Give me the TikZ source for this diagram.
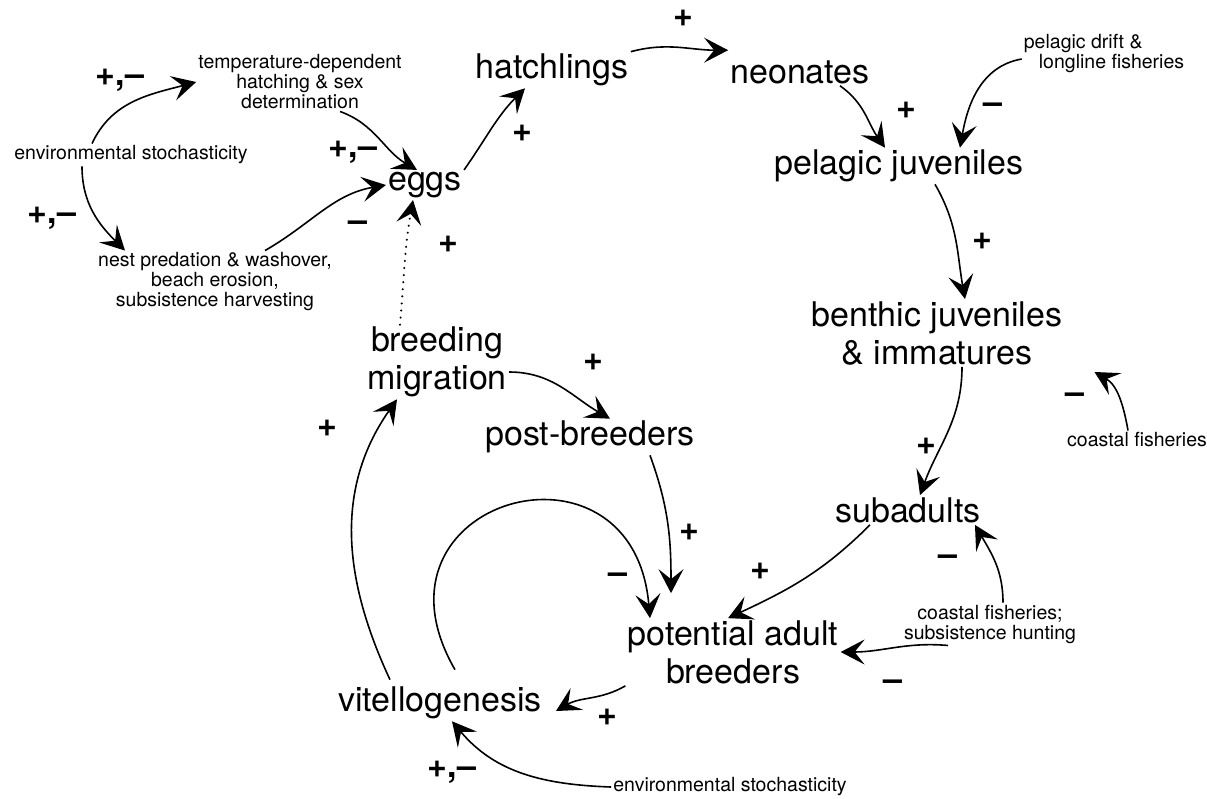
\documentclass[tikz,border=0pt]{standalone}
\usepackage{fontspec}
\setmainfont{TeX Gyre Heros}
\usetikzlibrary{arrows.meta}
\begin{document}
\begin{tikzpicture}[x=1pt,y=1pt,
  big/.style={font=\fontsize{34}{38}\selectfont, inner sep=2pt, align=center},
  small/.style={font=\fontsize{19.5}{20}\selectfont, inner sep=2pt, align=center},
  sign/.style={font=\fontsize{34}{34}\bfseries\selectfont, inner sep=0pt},
  arr/.style={line width=1.6pt, -{Stealth[length=24pt,width=25pt,inset=10pt]}},
  dotarr/.style={arr, line width=2.2pt, line cap=round, dash pattern=on 0.1pt off 7pt}]
\useasboundingbox (0,0) rectangle (1207,-798);
% main nodes
\node[big] (hatch) at (552,-70) {hatchlings};
\node[big] (neon) at (800,-72) {neonates};
\node[big] (pjuv) at (899,-166) {pelagic juveniles};
\node[big] (benth) at (937,-333) {benthic juveniles\\\& immatures};
\node[big] (subad) at (908,-510) {subadults};
\node[big] (pab) at (733,-652) {potential adult\\breeders};
\node[big] (vitel) at (440,-703) {vitellogenesis};
\node[big] (postb) at (590,-437) {post-breeders};
\node[big] (bmig) at (437,-362) {breeding\\migration};
\node[big] (eggs) at (425,-185) {eggs};
% small nodes
\node[small] (temp) at (300,-82) {temperature-dependent\\hatching \& sex\\determination};
\node[small] (envs) at (131,-155) {environmental stochasticity};
\node[small] (nest) at (215,-282) {nest predation \& washover,\\beach erosion,\\subsistence harvesting};
\node[small, align=left] (pdrift) at (1104,-53) {pelagic drift \&\\\hspace{15pt}longline fisheries};
\node[small] (cfish) at (1137,-440) {coastal fisheries};
\node[small] (cfsh) at (990,-624) {coastal fisheries;\\subsistence hunting};
\node[small] (envs2) at (730,-787) {environmental stochasticity};
% connectors
\draw[arr] ([xshift=-39]envs.north) to[out=65,in=195] (temp.west);
\draw[arr] ([xshift=-49]envs.south) to[out=-90,in=135] ([xshift=-90]nest.north);
\draw[arr] ([xshift=40]temp.south) to[out=-20,in=150] ([xshift=-8]eggs.north);
\draw[arr] ([xshift=50]nest.north) to[out=30,in=190] (eggs.west);
\draw[dotarr] ([xshift=-37]bmig.north) to[out=85,in=-100] ([xshift=-12]eggs.south);
\draw[arr] (eggs.north east) to[out=55,in=225] ([xshift=-27]hatch.south);
\draw[arr] (hatch.north east) to[out=15,in=180] ([yshift=8]neon.north west);
\draw[arr] ([xshift=40]neon.south) to[out=-35,in=125] ([xshift=-14]pjuv.north);
\draw[arr] ([yshift=-6]pdrift.west) to[out=190,in=80] ([xshift=61]pjuv.north);
\draw[arr] ([xshift=36]pjuv.south) to[out=-60,in=100] ([xshift=28]benth.north);
\draw[arr] ([xshift=-9]cfish.north) to[out=100,in=-30] ([xshift=30,yshift=-5]benth.south east);
\draw[arr] ([xshift=25]benth.south) to[out=-90,in=70] ([xshift=12]subad.north);
\draw[arr] ([xshift=-38]subad.south) to[out=-135,in=25] ([xshift=-5]pab.north);
\draw[arr] ([xshift=13]cfsh.north) to[out=90,in=-60] ([xshift=-8]subad.south east);
\draw[arr] ([xshift=-42]cfsh.south) to[out=175,in=0] (pab.east);
\draw[arr] ([xshift=60]postb.south) to[out=-70,in=90] ([xshift=-62,yshift=25]pab.north);
\draw[arr] ([xshift=15,yshift=15]vitel.north) to[out=120,in=95,looseness=2.5] ([xshift=-83]pab.north);
\draw[arr] (pab.south west) to[out=210,in=30] ([xshift=12,yshift=-8]vitel.east);
\draw[arr] ([xshift=-50,yshift=5]vitel.north) to[out=115,in=-125] ([xshift=-40]bmig.south);
\draw[arr] ([yshift=-10]bmig.east) to[out=0,in=150] ([xshift=20]postb.north);
\draw[arr] (envs2.west) to[out=178,in=-50] ([xshift=12]vitel.south);
% signs
\node[sign] (s1) at (120,-80) {+,--};
\node[sign] (s2) at (52,-218) {+,--};
\node[sign] (s3) at (353,-152) {+,--};
\node[sign] (s4) at (358,-226) {--};
\node[sign] (s5) at (448,-244) {+};
\node[sign] (s6) at (522,-133) {+};
\node[sign] (s7) at (683,-18) {+};
\node[sign] (s8) at (906,-110) {+};
\node[sign] (s9) at (993,-108) {--};
\node[sign] (s10) at (982,-241) {+};
\node[sign] (s11) at (1075,-398) {--};
\node[sign] (s12) at (926,-446) {+};
\node[sign] (s13) at (948,-560) {--};
\node[sign] (s14) at (760,-571) {+};
\node[sign] (s15) at (689,-532) {+};
\node[sign] (s16) at (618,-578) {--};
\node[sign] (s17) at (893,-685) {--};
\node[sign] (s18) at (607,-717) {+};
\node[sign] (s19) at (327,-428) {+};
\node[sign] (s20) at (593,-362) {+};
\node[sign] (s21) at (452,-772) {+,--};
\end{tikzpicture}
\end{document}
